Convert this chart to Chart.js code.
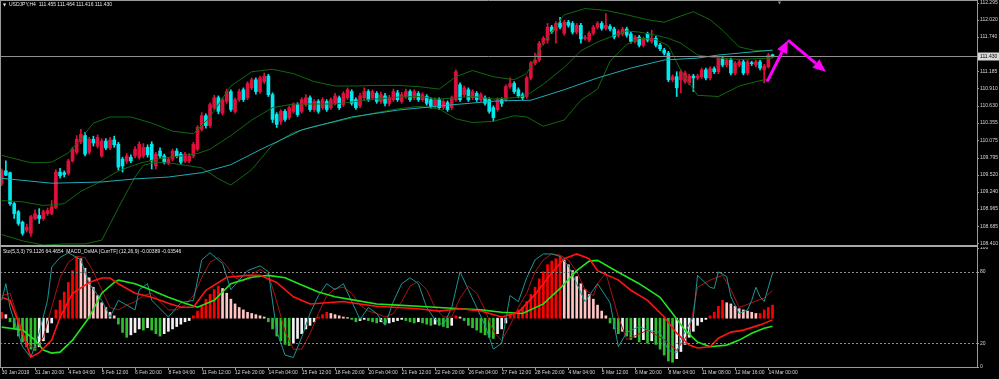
<!DOCTYPE html>
<html>
<head>
<meta charset="utf-8">
<title>USDJPY,H4</title>
<script src="https://cdn.jsdelivr.net/npm/chart.js@4.4.1/dist/chart.umd.min.js"></script>
<style>
  html, body { margin: 0; padding: 0; background: #000; }
  #wrap { position: relative; width: 999px; height: 379px; background: #000; overflow: hidden; }
  #priceBox { position: absolute; left: 0; top: 0; width: 999px; height: 247px; }
  #oscBox { position: absolute; left: 0; top: 247px; width: 999px; height: 132px; }
</style>
</head>
<body>
<div id="wrap">
  <div id="priceBox"><canvas id="priceChart"></canvas></div>
  <div id="oscBox"><canvas id="oscChart"></canvas></div>
</div>
<script>
// bar labels on the time axis, one every 8 H4 bars
const timeLabels = ['30 Jan 2019', '31 Jan 20:00', '4 Feb 04:00', '5 Feb 12:00', '6 Feb 20:00', '8 Feb 04:00',
  '11 Feb 12:00', '12 Feb 20:00', '14 Feb 04:00', '15 Feb 12:00', '18 Feb 20:00', '20 Feb 04:00', '21 Feb 12:00',
  '22 Feb 20:00', '26 Feb 04:00', '27 Feb 12:00', '28 Feb 20:00', '4 Mar 04:00', '5 Mar 12:00', '6 Mar 20:00',
  '8 Mar 04:00', '11 Mar 08:00', '12 Mar 16:00', '14 Mar 00:00'];
const barsPerLabel = 8;

const priceTicks = [112.295, 112.020, 111.740, 111.185, 110.910, 110.630, 110.355, 110.075, 109.795, 109.520,
  109.240, 108.965, 108.685, 108.410];
const oscTicks = [100, 80, 20, 0];
const oscLevels = [80, 20];
const bidPrice = 111.430;

const headerText = 'USDJPY,H4  111.455 111.464 111.416 111.430';
const oscHeaderText = 'Sto(5,3,3) 79.1126 64.4654  MACD_OsMA [CurrTF] (12,26,9) -0.00389 -0.03546';

const openPrices = [
  109.37, 109.58, 109.55, 109.05, 108.92, 108.75, 108.62, 108.57, 108.81, 108.86,
  108.81, 108.89, 108.89, 108.99, 109.56, 109.55, 109.54, 109.74, 109.88, 110.05,
  110.15, 109.88, 110.09, 109.98, 109.82, 110.06, 109.95, 110.08, 110.01, 109.77,
  109.74, 109.80, 109.82, 109.80, 109.82, 109.96, 110.01, 109.66, 109.90, 109.82,
  109.71, 109.77, 109.90, 109.85, 109.74, 109.74, 109.82, 109.93, 110.25, 110.47,
  110.31, 110.60, 110.76, 110.51, 110.70, 110.86, 110.54, 110.73, 110.89, 110.76,
  110.92, 111.05, 110.86, 111.02, 111.11, 110.81, 110.49, 110.38, 110.54, 110.44,
  110.54, 110.65, 110.54, 110.65, 110.76, 110.57, 110.70, 110.60, 110.70, 110.60,
  110.67, 110.76, 110.65, 110.76, 110.86, 110.73, 110.63, 110.76, 110.86, 110.76,
  110.83, 110.70, 110.79, 110.67, 110.73, 110.84, 110.70, 110.78, 110.86, 110.76,
  110.83, 110.73, 110.78, 110.73, 110.63, 110.73, 110.60, 110.68, 110.60, 110.73,
  110.97, 110.81, 110.89, 110.76, 110.83, 110.73, 110.76, 110.73, 110.60, 110.57,
  110.73, 110.73, 110.94, 110.99, 110.89, 110.81, 110.78, 111.08, 111.32, 111.37,
  111.64, 111.69, 111.90, 111.85, 111.96, 111.80, 111.98, 111.96, 111.82, 111.93,
  111.72, 111.69, 111.80, 111.90, 111.96, 111.88, 111.91, 111.87, 111.77, 111.79,
  111.87, 111.79, 111.67, 111.74, 111.61, 111.79, 111.67, 111.72, 111.61, 111.53,
  111.48, 111.05, 111.10, 111.05, 111.02, 111.00, 111.11, 111.08, 111.10, 111.21,
  111.08, 111.23, 111.18, 111.40, 111.29, 111.37, 111.16, 111.29, 111.34, 111.16,
  111.32, 111.29, 111.34, 111.21, 111.26, 111.455];
const highPrices = [
  109.61, 109.74, 109.56, 109.07, 108.94, 108.77, 108.72, 108.86, 108.95, 108.97,
  108.95, 108.98, 109.10, 109.60, 109.62, 109.58, 109.77, 109.96, 110.15, 110.25,
  110.20, 110.12, 110.14, 110.16, 110.10, 110.10, 110.12, 110.14, 110.04, 109.80,
  109.86, 109.84, 109.97, 110.05, 110.02, 110.00, 110.05, 109.88, 109.95, 109.85,
  109.80, 109.93, 109.94, 109.88, 109.88, 109.86, 110.04, 110.31, 110.52, 110.50,
  110.68, 110.80, 110.79, 110.76, 110.90, 110.89, 110.76, 110.90, 110.92, 111.02,
  111.08, 111.08, 111.11, 111.16, 111.14, 110.84, 110.52, 110.57, 110.57, 110.63,
  110.68, 110.68, 110.76, 110.81, 110.79, 110.73, 110.73, 110.76, 110.73, 110.76,
  110.83, 110.79, 110.86, 110.92, 110.89, 110.76, 110.83, 110.92, 110.89, 110.89,
  110.86, 110.85, 110.83, 110.80, 110.90, 110.88, 110.85, 110.90, 110.89, 110.89,
  110.86, 110.84, 110.81, 110.76, 110.76, 110.76, 110.73, 110.71, 110.79, 111.21,
  111.00, 110.95, 110.92, 110.89, 110.86, 110.84, 110.79, 110.76, 110.63, 110.76,
  110.76, 110.97, 111.08, 111.02, 110.92, 110.84, 111.11, 111.35, 111.48, 111.67,
  111.75, 111.96, 111.93, 111.99, 112.06, 112.01, 112.01, 111.99, 111.96, 111.96,
  111.77, 111.83, 111.93, 111.99, 111.99, 112.12, 111.94, 111.90, 111.86, 111.90,
  111.90, 111.82, 111.77, 111.77, 111.74, 111.82, 111.85, 111.75, 111.64, 111.56,
  111.51, 111.13, 111.18, 111.21, 111.19, 111.14, 111.14, 111.14, 111.24, 111.24,
  111.26, 111.26, 111.43, 111.43, 111.40, 111.40, 111.35, 111.37, 111.37, 111.37,
  111.35, 111.37, 111.37, 111.30, 111.48, 111.464];
const lowPrices = [
  109.34, 109.50, 109.02, 108.81, 108.70, 108.54, 108.59, 108.52, 108.79, 108.73,
  108.78, 108.86, 108.87, 108.97, 109.46, 109.48, 109.51, 109.72, 109.85, 110.02,
  109.82, 109.85, 109.98, 109.95, 109.80, 109.92, 109.92, 109.96, 109.59, 109.56,
  109.70, 109.71, 109.79, 109.77, 109.79, 109.80, 109.61, 109.61, 109.78, 109.69,
  109.68, 109.74, 109.79, 109.68, 109.71, 109.71, 109.79, 109.90, 110.22, 110.27,
  110.28, 110.57, 110.50, 110.48, 110.67, 110.54, 110.51, 110.70, 110.70, 110.73,
  110.89, 110.82, 110.83, 110.99, 110.78, 110.36, 110.28, 110.33, 110.38, 110.41,
  110.51, 110.46, 110.51, 110.62, 110.54, 110.54, 110.51, 110.57, 110.54, 110.57,
  110.64, 110.57, 110.62, 110.73, 110.64, 110.57, 110.60, 110.73, 110.70, 110.73,
  110.67, 110.67, 110.63, 110.63, 110.70, 110.70, 110.67, 110.75, 110.70, 110.73,
  110.70, 110.70, 110.64, 110.59, 110.60, 110.57, 110.57, 110.54, 110.57, 110.70,
  110.70, 110.78, 110.70, 110.73, 110.70, 110.70, 110.64, 110.51, 110.38, 110.54,
  110.62, 110.70, 110.91, 110.83, 110.76, 110.73, 110.75, 111.05, 111.29, 111.34,
  111.61, 111.64, 111.80, 111.64, 111.87, 111.77, 111.90, 111.79, 111.79, 111.64,
  111.69, 111.66, 111.77, 111.87, 111.85, 111.85, 111.84, 111.71, 111.74, 111.76,
  111.74, 111.64, 111.64, 111.58, 111.58, 111.66, 111.64, 111.58, 111.52, 111.45,
  111.02, 111.02, 110.78, 110.84, 110.99, 110.97, 110.86, 111.05, 111.07, 111.05,
  111.05, 111.15, 111.15, 111.26, 111.26, 111.13, 111.13, 111.26, 111.13, 111.13,
  111.28, 111.26, 111.21, 111.00, 111.24, 111.416];
const closePrices = [
  109.58, 109.51, 109.05, 108.89, 108.73, 108.57, 108.67, 108.84, 108.89, 108.81,
  108.92, 108.94, 109.00, 109.56, 109.50, 109.52, 109.74, 109.93, 110.09, 110.17,
  109.85, 110.09, 110.03, 110.12, 110.06, 109.95, 110.08, 110.00, 109.64, 109.66,
  109.82, 109.74, 109.93, 110.01, 109.96, 109.84, 109.74, 109.85, 109.82, 109.72,
  109.77, 109.90, 109.82, 109.72, 109.85, 109.82, 110.01, 110.28, 110.47, 110.31,
  110.65, 110.76, 110.54, 110.73, 110.86, 110.57, 110.73, 110.86, 110.73, 110.99,
  111.05, 110.86, 111.08, 111.11, 110.81, 110.41, 110.33, 110.54, 110.41, 110.60,
  110.65, 110.49, 110.73, 110.76, 110.57, 110.70, 110.54, 110.73, 110.57, 110.73,
  110.79, 110.60, 110.83, 110.89, 110.67, 110.60, 110.79, 110.86, 110.73, 110.86,
  110.70, 110.81, 110.67, 110.76, 110.86, 110.73, 110.81, 110.86, 110.73, 110.86,
  110.73, 110.81, 110.67, 110.62, 110.73, 110.60, 110.70, 110.57, 110.76, 111.18,
  110.73, 110.92, 110.73, 110.86, 110.73, 110.81, 110.67, 110.54, 110.44, 110.73,
  110.67, 110.94, 110.99, 110.86, 110.79, 110.76, 111.08, 111.32, 111.37, 111.64,
  111.72, 111.90, 111.83, 111.96, 111.90, 111.98, 111.93, 111.82, 111.93, 111.71,
  111.73, 111.80, 111.90, 111.96, 111.88, 111.93, 111.87, 111.74, 111.83, 111.87,
  111.77, 111.67, 111.74, 111.61, 111.71, 111.69, 111.72, 111.61, 111.55, 111.48,
  111.05, 111.10, 110.92, 111.18, 111.16, 111.11, 111.08, 111.11, 111.21, 111.08,
  111.23, 111.18, 111.40, 111.29, 111.37, 111.16, 111.32, 111.34, 111.16, 111.34,
  111.31, 111.34, 111.24, 111.27, 111.45, 111.430];

// moving average and bollinger bands, [bar, price]
const maLine = [[0, 109.46], [12, 109.38], [24, 109.40], [32, 109.45], [40, 109.48], [48, 109.55], [55, 109.68],
  [62, 109.92], [67, 110.08], [72, 110.24], [84, 110.45], [95, 110.56], [107, 110.64], [119, 110.71], [127, 110.72],
  [135, 110.89], [143, 111.08], [151, 111.24], [159, 111.37], [167, 111.40], [172, 111.45], [185, 111.53]];
const bbUpper = [[0, 109.83], [7, 109.71], [12, 109.72], [16, 109.87], [19, 110.10], [22, 110.35], [26, 110.45],
  [31, 110.45], [36, 110.35], [41, 110.22], [46, 110.18], [50, 110.45], [55, 110.95], [60, 111.18], [65, 111.22],
  [70, 111.15], [75, 111.02], [80, 110.95], [85, 110.95], [90, 110.96], [95, 110.96], [100, 110.94], [105, 110.90],
  [109, 111.10], [113, 111.20], [118, 111.10], [123, 111.05], [126, 111.15], [130, 111.65], [135, 112.10],
  [140, 112.20], [145, 112.17], [150, 112.10], [155, 112.02], [159, 111.98], [163, 112.08], [166, 112.15],
  [170, 112.02], [173, 111.85], [177, 111.58], [181, 111.52], [185, 111.52]];
const bbMiddle = [[0, 109.10], [5, 109.08], [10, 109.02], [15, 109.05], [19, 109.25], [23, 109.38], [28, 109.58],
  [33, 109.70], [38, 109.78], [43, 109.82], [47, 109.86], [50, 109.93], [55, 110.15], [60, 110.40], [65, 110.60],
  [70, 110.66], [75, 110.66], [80, 110.66], [85, 110.70], [90, 110.74], [95, 110.77], [100, 110.78], [105, 110.74],
  [109, 110.76], [113, 110.78], [118, 110.74], [123, 110.76], [126, 110.80], [130, 110.98], [135, 111.25],
  [139, 111.52], [143, 111.66], [146, 111.74], [150, 111.84], [153, 111.82], [157, 111.77], [160, 111.72],
  [163, 111.64], [167, 111.45], [172, 111.40], [177, 111.38], [185, 111.40]];
const bbLower = [[0, 108.55], [5, 108.45], [10, 108.38], [15, 108.40], [20, 108.40], [24, 108.46], [29, 109.11],
  [32, 109.48], [34, 109.67], [37, 109.72], [41, 109.70], [48, 109.63], [52, 109.45], [55, 109.35], [60, 109.60],
  [65, 110.00], [70, 110.20], [75, 110.30], [80, 110.37], [85, 110.45], [90, 110.52], [95, 110.58], [100, 110.62],
  [105, 110.58], [109, 110.42], [113, 110.36], [118, 110.38], [123, 110.47], [126, 110.45], [130, 110.30],
  [135, 110.40], [139, 110.72], [143, 110.90], [146, 111.35], [150, 111.62], [153, 111.72], [157, 111.70],
  [160, 111.60], [163, 111.20], [167, 110.80], [172, 110.78], [177, 110.95], [181, 111.02], [185, 111.08]];

// hand drawn forecast arrows, [bar, price]
const arrowPath = [[183.7, 111.02], [188.7, 111.69], [197.8, 111.18]];

// lower window
const osmaValues = [
  5, 3, -3, -9, -15, -20, -24, -26, -27, -24,
  -19, -12, -4, 7, 15, 22, 30, 40, 52, 50,
  42, 34, 26, 19, 13, 9, 5, 2, -5, -12,
  -16, -14, -12, -9, -10, -8, -10, -13, -15, -13,
  -11, -9, -7, -5, -3, -2, 2, 6, 11, 16,
  20, 24, 27, 25, 21, 16, 12, 9, 7, 5,
  4, 3, 2, 1, -3, -9, -15, -19, -22, -23,
  -21, -17, -13, -9, -6, -3, 1, 3, 5, 4,
  3, 2, 1, 0.5, -1, -3, -2, -1, -2, -3,
  -4, -3, -5, -4, -3, -2, -1, -2, -3, -4,
  -3, -4, -5, -6, -5, -6, -7, -8, -6, 2,
  1, -2, -6, -8, -10, -12, -14, -16, -17, -13,
  -9, -4, 3, 5, 7, 9, 14, 20, 26, 33,
  39, 45, 48, 50, 52, 49, 45, 40, 35, 29,
  24, 20, 16, 11, 6, 2, -4, -9, -13, -11,
  -15, -18, -16, -20, -18, -21, -19, -22, -26, -31,
  -36, -37, -34, -28, -22, -16, -11, -6, -3, -1,
  2, 5, 10, 15, 13, 12, 10, 8, 7, 6,
  5, 4, 4, 7, 9, 11];
const stochMain = [[0, 56], [1, 70], [2, 50], [5, 17], [7, 8], [9, 29], [11, 56], [12, 84], [14, 92], [16, 96],
  [19, 90], [21, 70], [24, 56], [26, 42], [28, 56], [32, 48], [33, 65], [35, 70], [36, 56], [40, 42], [43, 54],
  [46, 56], [48, 90], [50, 96], [53, 87], [55, 65], [59, 81], [62, 85], [64, 80], [66, 30], [68, 10], [70, 8],
  [72, 25], [74, 45], [76, 60], [78, 70], [80, 65], [82, 70], [84, 55], [86, 40], [88, 50], [90, 45], [92, 35],
  [94, 55], [96, 70], [98, 75], [100, 70], [102, 50], [104, 40], [106, 35], [108, 50], [110, 80], [112, 65],
  [114, 50], [116, 35], [118, 15], [120, 20], [122, 60], [124, 55], [126, 75], [128, 90], [130, 95], [132, 95],
  [134, 93], [136, 85], [138, 70], [140, 55], [142, 65], [143, 70], [146, 54], [148, 17], [150, 29], [153, 34],
  [155, 31], [158, 29], [160, 14], [162, 12], [163, 23], [166, 42], [167, 77], [170, 67], [171, 66], [172, 80],
  [174, 76], [175, 59], [177, 45], [179, 48], [180, 56], [181, 67], [182, 59], [183, 55], [185, 79.11]];
const stochSignal = [[0, 60], [2, 62], [4, 40], [6, 20], [8, 15], [10, 25], [12, 50], [14, 75], [16, 88], [18, 93],
  [20, 92], [22, 80], [24, 65], [26, 50], [28, 48], [30, 52], [32, 55], [34, 60], [36, 62], [38, 55], [40, 48],
  [42, 48], [44, 52], [46, 60], [48, 75], [50, 88], [52, 92], [54, 85], [56, 75], [58, 72], [60, 78], [62, 82],
  [64, 78], [66, 55], [68, 30], [70, 15], [72, 15], [74, 28], [76, 45], [78, 60], [80, 66], [82, 67], [84, 62],
  [86, 52], [88, 47], [90, 45], [92, 42], [94, 45], [96, 55], [98, 68], [100, 72], [102, 65], [104, 50], [106, 42],
  [108, 42], [110, 58], [112, 68], [114, 62], [116, 48], [118, 30], [120, 22], [122, 35], [124, 50], [126, 62],
  [128, 80], [130, 90], [132, 95], [134, 94], [136, 90], [138, 80], [140, 65], [142, 60], [143, 70], [145, 79],
  [148, 42], [150, 23], [155, 31], [159, 23], [162, 14], [165, 29], [167, 67], [170, 73], [173, 77], [175, 65],
  [177, 50], [180, 54], [183, 58], [185, 64.47]];
const macdMain = [[0, 17.6], [2, 15], [5, -12.6], [7, -32.7], [9, -29], [12, -18.4], [14, 0.8], [17, 21], [21, 30],
  [24, 33.8], [26, 33.8], [28, 29], [32, 21], [36, 17.6], [40, 12.6], [43, 9.2], [46, 9.2], [49, 23.5], [54, 34.4],
  [59, 36], [62, 36], [66, 30], [70, 18], [74, 12], [78, 13], [82, 14], [86, 12], [90, 10], [95, 9], [100, 8],
  [105, 6], [110, 8], [115, 6], [120, 1], [124, 5], [128, 20], [132, 38], [135, 50], [138, 54], [141, 50],
  [143, 40], [148, 32], [151, 23.5], [155, 15], [159, 1], [162, -12.6], [165, -22.6], [167, -25], [170, -24],
  [172, -16.8], [175, -11.7], [178, -10], [182, -5.6], [185, -1.4]];
const macdSignal = [[0, -7.5], [2, -8.4], [5, -10], [8, -18.4], [10, -26.8], [12, -29.3], [14, -28.5], [17, -18.4],
  [21, 0.8], [24, 21], [27, 30], [28, 32], [32, 29], [36, 23.5], [40, 17.6], [44, 12.6], [47, 9.2], [51, 15],
  [55, 29], [60, 34.4], [64, 36], [68, 34], [72, 28], [76, 22], [80, 18], [85, 15], [90, 12], [95, 11], [100, 10],
  [105, 9], [110, 8], [115, 7], [120, 5], [125, 4], [130, 12], [134, 25], [138, 40], [141, 48], [143, 48.6],
  [148, 38.6], [153, 29], [158, 17.6], [161, 4], [164, -10], [167, -20], [170, -24], [174, -22.6], [177, -18.4],
  [180, -12.6], [183, -8.4], [185, -6.7]];

const X_MIN = -0.41;
const X_MAX = 234.07;
const PRICE_MIN = 108.3502;
const PRICE_MAX = 112.3386;

const FONT_FAMILY = '"Liberation Sans", Arial, sans-serif';
const TICK_FONT = { family: FONT_FAMILY, size: 5 };
const TEXT_COLOR = '#d6d6d6';
const FRAME_COLOR = '#9a9a9a';
const BULL_COLOR = '#e0103c';
const BEAR_COLOR = '#00e8f0';

function toPoints(pairs) {
  return pairs.map(p => ({ x: p[0], y: p[1] }));
}

function candleColor(i) {
  return closePrices[i] >= openPrices[i] ? BULL_COLOR : BEAR_COLOR;
}

function osmaColor(i) {
  const v = osmaValues[i];
  const prev = i > 0 ? osmaValues[i - 1] : v;
  if (v >= 0) return v >= prev ? '#ff0000' : '#ffc4c4';
  return v <= prev ? '#2fbf2f' : '#f2f2f2';
}

// no automatic label padding, the plot area fills the canvas
function noPadding(s) {
  s.paddingTop = 0;
  s.paddingBottom = 0;
  s.paddingLeft = 0;
  s.paddingRight = 0;
}

function hLine(ctx, x1, x2, y) {
  ctx.beginPath(); ctx.moveTo(x1, y); ctx.lineTo(x2, y); ctx.stroke();
}
function vLine(ctx, x, y1, y2) {
  ctx.beginPath(); ctx.moveTo(x, y1); ctx.lineTo(x, y2); ctx.stroke();
}

function drawArrow(ctx, x1, y1, x2, y2, headLen, headHalf) {
  const ang = Math.atan2(y2 - y1, x2 - x1);
  const bx = x2 - headLen * Math.cos(ang);
  const by = y2 - headLen * Math.sin(ang);
  ctx.beginPath(); ctx.moveTo(x1, y1); ctx.lineTo(bx, by); ctx.stroke();
  ctx.beginPath();
  ctx.moveTo(x2, y2);
  ctx.lineTo(bx + headHalf * Math.sin(ang), by - headHalf * Math.cos(ang));
  ctx.lineTo(bx - headHalf * Math.sin(ang), by + headHalf * Math.cos(ang));
  ctx.closePath();
  ctx.fill();
}

const priceOverlay = {
  id: 'priceOverlay',
  afterDraw(chart) {
    const { ctx, chartArea: a, scales: { x, y } } = chart;
    ctx.save();
    ctx.lineWidth = 1;

    // bid line
    const bidY = Math.round(y.getPixelForValue(bidPrice)) + 0.5;
    ctx.strokeStyle = '#8f8f8f';
    hLine(ctx, a.left, a.right, bidY);

    // forecast arrows
    ctx.strokeStyle = '#ff00ff';
    ctx.fillStyle = '#ff00ff';
    ctx.lineWidth = 3;
    for (let k = 0; k < arrowPath.length - 1; k++) {
      const p = arrowPath[k], q = arrowPath[k + 1];
      drawArrow(ctx, x.getPixelForValue(p[0]), y.getPixelForValue(p[1]),
        x.getPixelForValue(q[0]), y.getPixelForValue(q[1]), 13, 5.5);
    }

    // frame
    ctx.lineWidth = 1;
    ctx.strokeStyle = FRAME_COLOR;
    hLine(ctx, 0, a.right, 0.5);
    vLine(ctx, 0.5, 0, a.bottom);
    vLine(ctx, a.right + 0.5, 0, a.bottom);
    ctx.fillStyle = '#a8a8a8';
    ctx.fillRect(0, a.bottom - 2, a.right + 1, 2);
    priceTicks.forEach(v => {
      const py = Math.round(y.getPixelForValue(v)) + 0.5;
      hLine(ctx, a.right, a.right + 2, py);
    });

    // bid label
    ctx.fillStyle = '#d9d9d9';
    ctx.fillRect(a.right + 1, bidY - 4, 21, 8);
    ctx.fillStyle = '#000';
    ctx.font = '5px ' + FONT_FAMILY;
    ctx.textBaseline = 'middle';
    ctx.fillText(bidPrice.toFixed(3), a.right + 3, bidY);

    // header
    ctx.fillStyle = '#e6e6e6';
    ctx.font = '4px "DejaVu Sans"';
    ctx.fillText('\u25BC', 3, 5);
    ctx.font = '5px ' + FONT_FAMILY;
    ctx.fillText(headerText, 9, 5);
    ctx.fillStyle = '#8a8a8a';
    ctx.font = '4px "DejaVu Sans"';
    ctx.fillText('\u25BC', x.getPixelForValue(186.3), 2.5);
    ctx.restore();
  }
};

const oscOverlay = {
  id: 'oscOverlay',
  afterDraw(chart) {
    const { ctx, chartArea: a, scales: { x, y } } = chart;
    ctx.save();
    ctx.lineWidth = 1;
    ctx.strokeStyle = '#8c8c8c';
    ctx.setLineDash([2, 2]);
    oscLevels.forEach(v => hLine(ctx, a.left, a.right, Math.round(y.getPixelForValue(v)) + 0.5));
    ctx.setLineDash([]);

    ctx.strokeStyle = FRAME_COLOR;
    vLine(ctx, 0.5, 0, a.bottom);
    vLine(ctx, a.right + 0.5, 0, a.bottom + 1);
    hLine(ctx, 0, a.right + 1, a.bottom + 0.5);
    timeLabels.forEach((t, k) => {
      const px = Math.round(x.getPixelForValue(k * barsPerLabel)) + 0.5;
      vLine(ctx, px, a.bottom, a.bottom + 3);
    });
    oscTicks.forEach(v => {
      const py = Math.round(y.getPixelForValue(v)) + 0.5;
      hLine(ctx, a.right, a.right + 2, py);
    });

    ctx.fillStyle = '#e6e6e6';
    ctx.font = '5px ' + FONT_FAMILY;
    ctx.textBaseline = 'middle';
    ctx.fillText(oscHeaderText, 3, 4.5);
    ctx.restore();
  }
};

const lineStyle = (color, width) => ({
  borderColor: color, borderWidth: width, pointRadius: 0, tension: 0, fill: false
});

const candleIdx = openPrices.map((o, i) => i);

new Chart(document.getElementById('priceChart'), {
  type: 'bar',
  data: {
    datasets: [
      Object.assign({ type: 'line', label: 'MA', data: toPoints(maLine), order: 1 }, lineStyle('#22aab4', 1)),
      Object.assign({ type: 'line', label: 'BB upper', data: toPoints(bbUpper), order: 2 }, lineStyle('#0f6a0f', 1)),
      Object.assign({ type: 'line', label: 'BB middle', data: toPoints(bbMiddle), order: 2 }, lineStyle('#0f6a0f', 1)),
      Object.assign({ type: 'line', label: 'BB lower', data: toPoints(bbLower), order: 2 }, lineStyle('#0f6a0f', 1)),
      {
        type: 'bar', label: 'body', order: 3, grouped: false, barThickness: 3, minBarLength: 1,
        data: candleIdx.map(i => ({ x: i, y: [openPrices[i], closePrices[i]] })),
        backgroundColor: c => candleColor(c.dataIndex)
      },
      {
        type: 'bar', label: 'wick', order: 4, grouped: false, barThickness: 1,
        data: candleIdx.map(i => ({ x: i, y: [lowPrices[i], highPrices[i]] })),
        backgroundColor: c => candleColor(c.dataIndex)
      }
    ]
  },
  options: {
    responsive: true,
    maintainAspectRatio: false,
    animation: false,
    devicePixelRatio: 1,
    layout: { padding: 0 },
    plugins: { legend: { display: false }, tooltip: { enabled: false } },
    scales: {
      x: { type: 'linear', min: X_MIN, max: X_MAX, display: false, offset: false },
      y: {
        type: 'linear', position: 'right', min: PRICE_MIN, max: PRICE_MAX,
        grid: { display: false, drawTicks: false }, border: { display: false },
        ticks: { color: TEXT_COLOR, font: TICK_FONT, padding: 3, autoSkip: false, callback: v => v.toFixed(3) },
        afterBuildTicks: s => { s.ticks = priceTicks.map(v => ({ value: v })); },
        afterFit: s => { s.width = 22; noPadding(s); }
      }
    }
  },
  plugins: [priceOverlay]
});

new Chart(document.getElementById('oscChart'), {
  type: 'bar',
  data: {
    datasets: [
      Object.assign({ type: 'line', label: 'MACD', data: toPoints(macdMain), yAxisID: 'yh', order: 1 }, lineStyle('#ff1414', 1.6)),
      Object.assign({ type: 'line', label: 'Signal', data: toPoints(macdSignal), yAxisID: 'yh', order: 1 }, lineStyle('#1ee61e', 1.6)),
      Object.assign({ type: 'line', label: 'Sto main', data: toPoints(stochMain), yAxisID: 'y', order: 2 }, lineStyle('#1b9696', 1)),
      Object.assign({ type: 'line', label: 'Sto signal', data: toPoints(stochSignal), yAxisID: 'y', order: 2 }, lineStyle('#a81414', 1)),
      {
        type: 'bar', label: 'OsMA', order: 3, grouped: false, barThickness: 2, yAxisID: 'yh',
        data: osmaValues.map((v, i) => ({ x: i, y: v })),
        backgroundColor: c => osmaColor(c.dataIndex)
      }
    ]
  },
  options: {
    responsive: true,
    maintainAspectRatio: false,
    animation: false,
    devicePixelRatio: 1,
    layout: { padding: { top: 1, left: 0, right: 0, bottom: 0 } },
    plugins: { legend: { display: false }, tooltip: { enabled: false } },
    scales: {
      x: {
        type: 'linear', min: X_MIN, max: X_MAX, position: 'bottom', offset: false,
        grid: { display: false, drawTicks: false }, border: { display: false },
        ticks: {
          color: TEXT_COLOR, font: TICK_FONT, padding: 3, autoSkip: false, maxRotation: 0, minRotation: 0,
          align: 'start', callback: (v, i) => timeLabels[i]
        },
        afterBuildTicks: s => { s.ticks = timeLabels.map((t, k) => ({ value: k * barsPerLabel })); },
        afterFit: s => { s.height = 12; noPadding(s); }
      },
      y: {
        type: 'linear', position: 'right', min: 0, max: 100,
        grid: { display: false, drawTicks: false }, border: { display: false },
        ticks: { color: TEXT_COLOR, font: TICK_FONT, padding: 3, autoSkip: false, callback: v => String(v) },
        afterBuildTicks: s => { s.ticks = oscTicks.map(v => ({ value: v })); },
        afterFit: s => { s.width = 22; noPadding(s); }
      },
      yh: { type: 'linear', display: false, min: -41, max: 59 }
    }
  },
  plugins: [oscOverlay]
});
</script>
</body>
</html>
